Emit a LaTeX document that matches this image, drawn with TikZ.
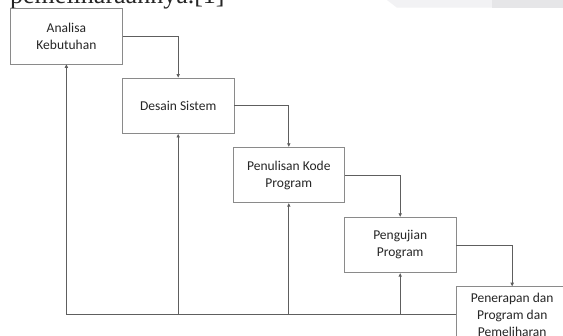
\documentclass[tikz,border=0pt]{standalone}
\usepackage{fontspec}
\setmainfont{Carlito}
\newfontfamily\serifface{Liberation Serif}
\usetikzlibrary{arrows.meta}
\definecolor{boxline}{HTML}{8A8A8A}
\definecolor{flowline}{HTML}{5E5E5E}
\definecolor{labeltext}{HTML}{262626}
\tikzset{
  stage/.style={draw=boxline, line width=0.8pt, fill=white, minimum width=111.5pt,
    minimum height=55.5pt, inner sep=0pt, align=center, text=labeltext,
    font=\fontsize{13.5}{17}\selectfont},
  flow/.style={draw=flowline, line width=0.8pt, -{Triangle[length=3.5pt,width=3.2pt]}},
  plain/.style={draw=flowline, line width=0.8pt},
}
\begin{document}
\begin{tikzpicture}[x=1pt,y=-1pt]
\useasboundingbox (0,0) rectangle (563,336);
\clip (0,0) rectangle (563,336);
\fill[white] (0,0) rectangle (563,336);
% faint page strip along the top edge
\fill[fill={rgb,255:red,242;green,242;blue,244}] (387,0) -- (492,0) -- (492,7.7) -- (397,7.7) -- cycle;
\fill[fill={rgb,255:red,230;green,230;blue,232}] (492,0) rectangle (563,7.7);
% last line of the preceding paragraph, cut by the top edge
\node[anchor=base west, inner sep=0pt, text=labeltext,
  font=\serifface\fontsize{26}{26}\selectfont] (para) at (10,3.5) {pemeliharaannya.[1]};

% waterfall stages
\node[stage] (b1) at (66.4,36.2) {Analisa\\Kebutuhan};
\node[stage] (b2) at (178.2,105.8) {Desain Sistem};
\node[stage] (b3) at (288.8,175.0) {Penulisan Kode\\Program};
\node[stage] (b4) at (400.2,245.0) {Pengujian\\Program};
\node[stage] (b5) at (512.2,314.4) {Penerapan dan\\Program dan\\Pemeliharan};

% forward flow
\draw[flow] (b1.east) -| (b2.north);
\draw[flow] (b2.east) -| (b3.north);
\draw[flow] (b3.east) -| (b4.north);
\draw[flow] (b4.east) -| (b5.north);

% feedback bus back to every earlier stage
\coordinate (fb) at (66.4,314.4);
\draw[plain] (b5.west) -- (fb);
\draw[flow] (fb) -- (b1.south);
\draw[flow] (b2.south |- fb) -- (b2.south);
\draw[flow] (b3.south |- fb) -- (b3.south);
\draw[flow] (b4.south |- fb) -- (b4.south);
\end{tikzpicture}
\end{document}
